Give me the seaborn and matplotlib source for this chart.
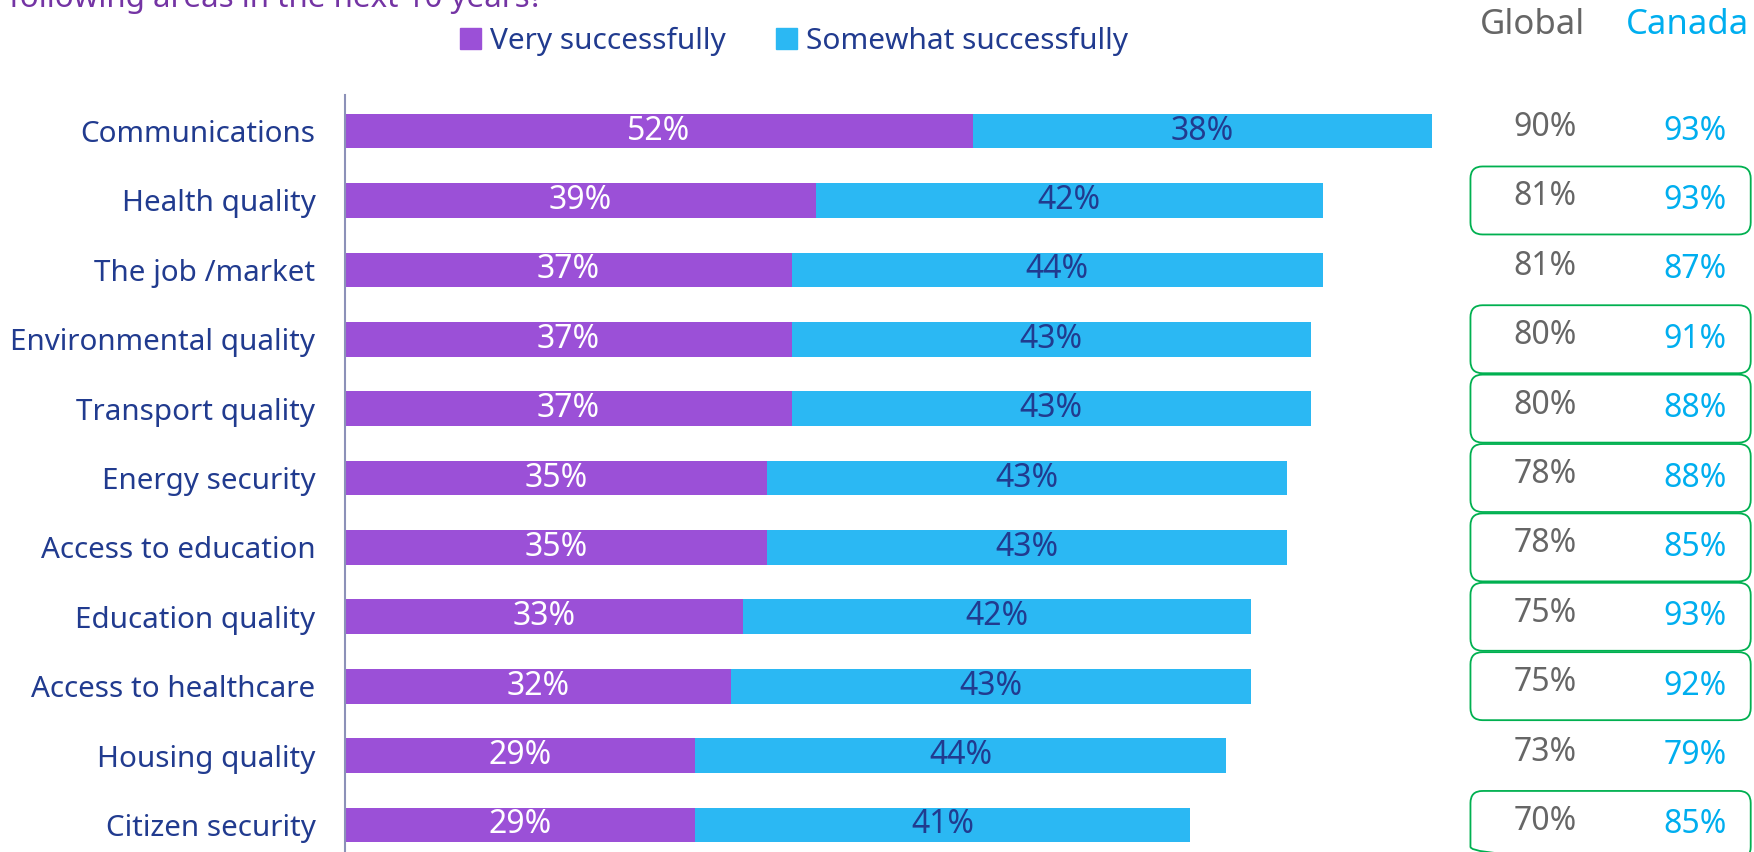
import matplotlib
matplotlib.use("Agg")
import matplotlib.pyplot as plt
from matplotlib.patches import Patch, FancyBboxPatch
import seaborn as sns
import pandas as pd

# data
categories = ["Communications", "Health quality", "The job /market", "Environmental quality",
              "Transport quality", "Energy security", "Access to education", "Education quality",
              "Access to healthcare", "Housing quality", "Citizen security"]
very = [52, 39, 37, 37, 37, 35, 35, 33, 32, 29, 29]
somewhat = [38, 42, 44, 43, 43, 43, 43, 42, 43, 44, 41]
global_pct = [90, 81, 81, 80, 80, 78, 78, 75, 75, 73, 70]
canada_pct = [93, 93, 87, 91, 88, 88, 85, 93, 92, 79, 85]
boxed = [False, True, False, True, True, True, True, True, True, False, True]

PURPLE = "#9B50D7"
BLUE = "#2BB8F3"
NAVY = "#213B8F"
GREY = "#666666"
CANADA = "#00AEEF"
GREEN = "#00B050"

sns.set_style("white")
plt.rcParams['font.family'] = ['Noto Sans', 'DejaVu Sans']

df = pd.DataFrame({"area": categories, "very": very, "somewhat": somewhat})
df["total"] = df["very"] + df["somewhat"]

fig = plt.figure(figsize=(17.54, 8.52), dpi=100)
ax = fig.add_axes([344.6 / 1754, 0, 1 - 344.6 / 1754, 757 / 852])

# stacked bars: total in blue, then the "very" part over it
sns.barplot(data=df, y="area", x="total", color=BLUE, width=0.5, saturation=1,
            orient="h", ax=ax, linewidth=0)
sns.barplot(data=df, y="area", x="very", color=PURPLE, width=0.5, saturation=1,
            orient="h", ax=ax, linewidth=0)

xmax = (1754 - 344.6) / 12.08
ax.set_xlim(0, xmax)
ax.set_ylim(10.39, -0.52)

for i in range(len(categories)):
    ax.text(very[i] / 2, i, f"{very[i]}%", ha="center", va="center",
            color="white", fontsize=23)
    ax.text(very[i] + somewhat[i] / 2, i, f"{somewhat[i]}%", ha="center", va="center",
            color=NAVY, fontsize=23)
    ax.text(99.4, i - 0.05, f"{global_pct[i]}%", ha="center", va="center",
            color=GREY, fontsize=23)
    ax.text(111.8, i, f"{canada_pct[i]}%", ha="center", va="center",
            color=CANADA, fontsize=23)
    if boxed[i]:
        box = FancyBboxPatch((93.2, i - 0.49), 23.2, 0.98,
                             boxstyle="round,pad=0,rounding_size=1.0",
                             mutation_aspect=12.08 / 69.4,
                             fill=False, edgecolor=GREEN, linewidth=1.3, clip_on=False)
        ax.add_patch(box)

ax.text(98.3, -1.53, "Global", ha="center", va="center", color=GREY, fontsize=25, clip_on=False)
ax.text(111.2, -1.53, "Canada", ha="center", va="center", color=CANADA, fontsize=25, clip_on=False)

# axes styling
sns.despine(ax=ax, top=True, right=True, bottom=True, left=False)
ax.spines["left"].set_color("#8C91B8")
ax.spines["left"].set_linewidth(1.5)
ax.set_xticks([])
ax.set_xlabel("")
ax.set_ylabel("")
ax.tick_params(axis="y", length=0, pad=21, labelsize=21.3, labelcolor=NAVY)

# legend
handles = [Patch(color=PURPLE, label="Very successfully"),
           Patch(color=BLUE, label="Somewhat successfully")]
leg = fig.legend(handles=handles, loc="center left", bbox_to_anchor=(460 / 1754, 1 - 41 / 852),
                 ncol=2, frameon=False, fontsize=21.5, handlelength=0.7, handleheight=0.7,
                 handletextpad=0.3, columnspacing=1.7, borderpad=0, borderaxespad=0)
for t in leg.get_texts():
    t.set_color(NAVY)

# title, cut off at the top in the original
fig.text(543 / 1754, 1 - 7 / 852, "following areas in the next 10 years?", ha="right",
         va="baseline", color="#7434A4", fontsize=22.5)

fig.savefig("out.png", dpi=100)
